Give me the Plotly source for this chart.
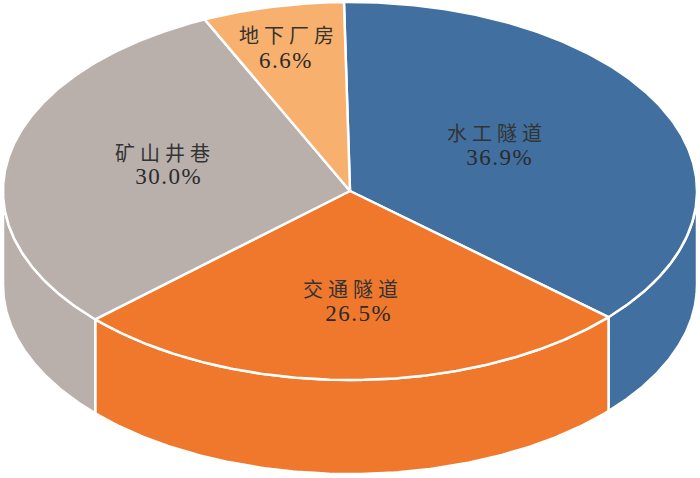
import numpy as np
import plotly.graph_objects as go

categories = ["水工隧道", "交通隧道", "矿山井巷", "地下厂房"]
shares = [36.9, 26.5, 30.0, 6.6]
colors = ["#416F9F", "#F0782D", "#B9B0AC", "#F8B06E"]

# Projection of the tilted disc, in axis units (axes span the 700x478 page)
CX, CY, RX, RY, DEPTH = 350, 191, 347, 189, 94
START_DEG = -1.0
NAME_X = [496.5, 353, 165, 289]
NAME_Y = [133.5, 290, 153.5, 36]
PCT_X = [499, 358, 168.5, 286]
PCT_Y = [157, 313, 176, 60.5]
SERIF = "'Liberation Serif', 'Noto Sans CJK SC'"


def rim(t_deg, drop=0.0):
    t = np.radians(t_deg)
    return CX + RX * np.sin(t), CY - RY * np.cos(t) + drop


edges = START_DEG + np.concatenate([[0.0], np.cumsum(shares)]) * 3.6
fig = go.Figure()

# Outer wall: only the front half (90..270 degrees) can be seen
for name, color, a, b in zip(categories, colors, edges[:-1], edges[1:]):
    lo, hi = max(a, 90.0), min(b, 270.0)
    if lo >= hi:
        continue
    t = np.linspace(lo, hi, 160)
    x1, y1 = rim(t)
    x2, y2 = rim(t[::-1], DEPTH)
    fig.add_trace(go.Scatter(
        x=np.concatenate([x1, x2, x1[:1]]), y=np.concatenate([y1, y2, y1[:1]]),
        mode="lines", fill="toself", fillcolor=color,
        line=dict(color="white", width=2.5), hoverinfo="skip", showlegend=False))

# Top face
for name, share, color, a, b in zip(categories, shares, colors, edges[:-1], edges[1:]):
    t = np.linspace(a, b, 240)
    x1, y1 = rim(t)
    fig.add_trace(go.Scatter(
        x=np.concatenate([[CX], x1, [CX]]), y=np.concatenate([[CY], y1, [CY]]),
        mode="lines", fill="toself", fillcolor=color,
        line=dict(color="white", width=2.5), name=name,
        text=f"{name} {share:.1f}%", hoverinfo="text", showlegend=False))

for name, nx, ny in zip(categories, NAME_X, NAME_Y):
    fig.add_annotation(x=nx, y=ny, xref="x", yref="y", showarrow=False, text=name,
                       font=dict(family=SERIF, size=20, color="#333333"))
for share, px, py in zip(shares, PCT_X, PCT_Y):
    fig.add_annotation(x=px, y=py, xref="x", yref="y", showarrow=False, text=f"{share:.1f}%",
                       font=dict(family=SERIF, size=23, color="#2b2b2b"))

fig.update_layout(
    width=700, height=478, autosize=False,
    margin=dict(l=0, r=0, t=0, b=0),
    paper_bgcolor="white", plot_bgcolor="white",
    xaxis=dict(range=[0, 700], visible=False, fixedrange=True),
    yaxis=dict(range=[478, 0], visible=False, fixedrange=True),
)

fig.write_html("out.html", config={"displayModeBar": False}, post_script="""
document.body.style.margin='0';
document.querySelectorAll('.annotation-text').forEach(function(t){
  t.style.letterSpacing = /%/.test(t.textContent) ? '1.5px' : '5px';
});
""")
